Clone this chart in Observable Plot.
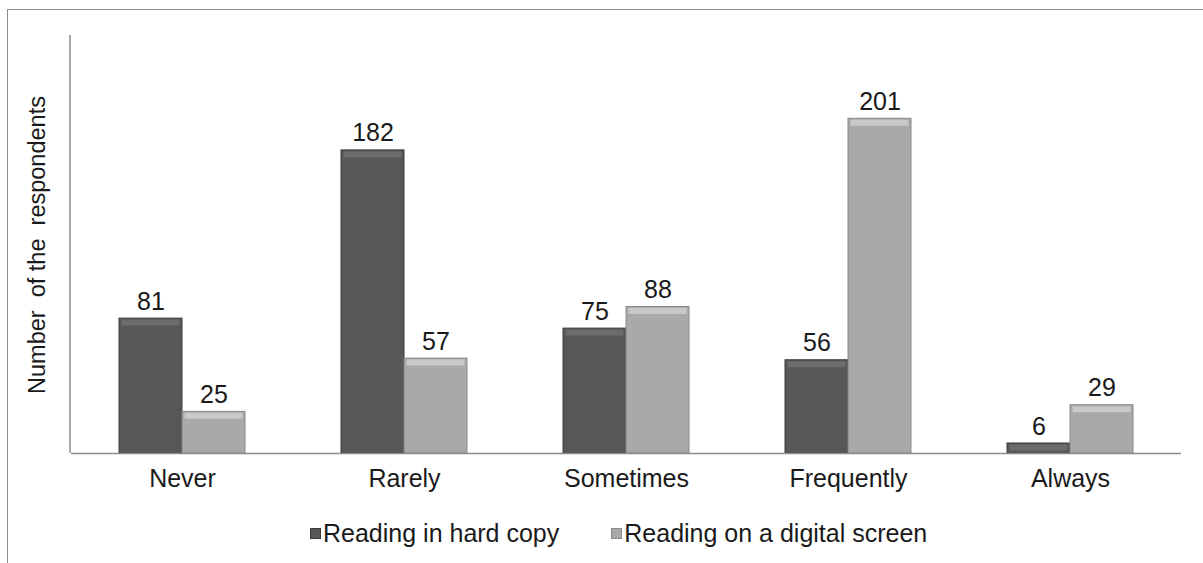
<!DOCTYPE html>
<html>
<head>
<meta charset="utf-8">
<script src="https://cdn.jsdelivr.net/npm/d3@7"></script>
<script src="https://cdn.jsdelivr.net/npm/@observablehq/plot@0.6"></script>
<style>
  body { margin: 0; background: #fff; font-family: "Liberation Sans", Arial, sans-serif; color: #1a1a1a; }
  #frame { position: absolute; left: 7px; top: 9px; width: 1210px; height: 570px; border: 1.5px solid #8c8c8c; }
  #chart { position: absolute; left: 0; top: 0; }
  #ylabel { position: absolute; left: 37px; top: 245px; transform: translate(-50%, -50%) rotate(-90deg); font-size: 23.5px; white-space: pre; }
  #legend { position: absolute; top: 515px; left: 310px; font-size: 25px; line-height: 36px; white-space: nowrap; display: flex; align-items: center; }
  .sw { display: inline-block; width: 9px; height: 9px; margin-right: 2px; }
  .item { display: flex; align-items: center; }
</style>
</head>
<body>
<div id="frame"></div>
<div id="chart"></div>
<div id="ylabel">Number  of the  respondents</div>
<div id="legend"></div>
<script>
const categories = ["Never", "Rarely", "Sometimes", "Frequently", "Always"];
const series = ["Reading in hard copy", "Reading on a digital screen"];
const hardCopy = [81, 182, 75, 56, 6];
const digitalScreen = [25, 57, 88, 201, 29];

const fills = ["#575757", "#a9a9a9"];
const edges = ["#3c3c3c", "#8a8a8a"];
const highlights = ["#6c6c6c", "#c9c9c9"];

const rows = [];
categories.forEach((c, i) => {
  rows.push({cat: c, series: series[0], value: hardCopy[i]});
  rows.push({cat: c, series: series[1], value: digitalScreen[i]});
});
const idx = s => series.indexOf(s);

const plot = Plot.plot({
  width: 1203,
  height: 500,
  marginLeft: 70,
  marginRight: 21,
  marginTop: 35,
  marginBottom: 47,
  style: {fontSize: "25px", fontFamily: "Liberation Sans, Arial, sans-serif", color: "#1a1a1a", background: "transparent"},
  fx: {domain: categories, padding: 0, label: null, tickSize: 0, tickPadding: 16},
  x: {domain: series, paddingInner: 0, paddingOuter: 0.75, axis: null},
  y: {domain: [0, 251], axis: null},
  marks: [
    Plot.barY(rows, {fx: "cat", x: "series", y: "value",
      fill: d => fills[idx(d.series)], stroke: d => edges[idx(d.series)], strokeWidth: 1}),
    Plot.tickY(rows, {fx: "cat", x: "series", y: "value", dy: 4, insetLeft: 2.5, insetRight: 2.5,
      stroke: d => highlights[idx(d.series)], strokeWidth: 6}),
    Plot.text(rows, {fx: "cat", x: "series", y: "value", text: d => String(d.value),
      dy: -9, lineAnchor: "bottom", fill: "#1a1a1a"}),
    Plot.ruleY([0], {stroke: "#8c8c8c", strokeWidth: 1.5})
  ]
});
document.getElementById("chart").appendChild(plot);

// y axis line drawn from the library's scales
const ys = plot.scale("y");
const fxs = plot.scale("fx");
const x0 = fxs.range ? fxs.range[0] : 70;
d3.select(plot).append("line")
  .attr("x1", x0).attr("x2", x0)
  .attr("y1", ys.apply(0)).attr("y2", ys.apply(ys.domain[1]))
  .attr("stroke", "#8c8c8c").attr("stroke-width", 1.5);

// legend
const lg = d3.select("#legend");
series.forEach((s, i) => {
  const it = lg.append("div").attr("class", "item").style("margin-right", i === 0 ? "52px" : "0");
  it.append("span").attr("class", "sw")
    .style("background", fills[i]).style("border", `1px solid ${edges[i]}`);
  it.append("span").text(s);
});
</script>
</body>
</html>
